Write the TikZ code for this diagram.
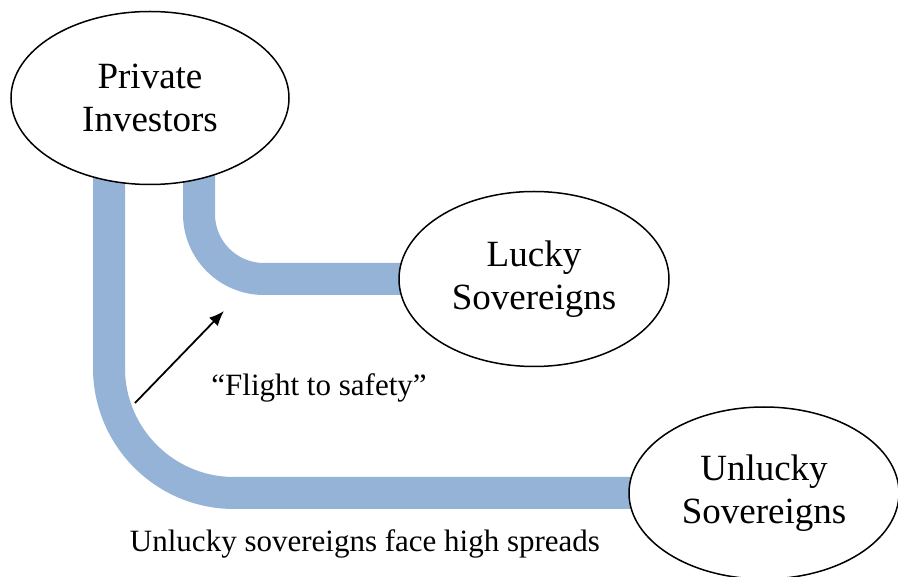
\documentclass[tikz,border=0pt]{standalone}
\usepackage{fontspec}
\setmainfont{Liberation Serif}
\usetikzlibrary{shapes.geometric,arrows.meta,backgrounds}

\definecolor{pipeblue}{RGB}{149,179,215}

\tikzstyle{party} = [ellipse, draw, line width=1.5pt, fill=white, align=center, inner sep=0pt, font=\fontsize{37}{43}\selectfont]
\tikzstyle{pipe} = [draw=pipeblue, line width=32pt]
\tikzstyle{line} = [draw, -{Latex[length=15pt,width=12pt]}, line width=1.8pt]
\tikzstyle{note} = [font=\fontsize{31}{37}\selectfont]

\begin{document}
\begin{tikzpicture}[x=1pt, y=-1pt]

  \useasboundingbox (0,0) rectangle (898,577);

  \node[party, minimum width=278pt, minimum height=173pt] (investors) at (150,98) {Private\\Investors};
  \node[party, minimum width=270pt, minimum height=175pt] (lucky) at (534,279) {Lucky\\Sovereigns};
  \node[party, minimum width=270pt, minimum height=172pt] (unlucky) at (764,493) {Unlucky\\Sovereigns};

  \begin{scope}[on background layer]
    \path [pipe, rounded corners=65pt] ([xshift=49pt]investors.center) |- (lucky.center);
    \path [pipe, rounded corners=125pt] ([xshift=-41pt]investors.center) |- (unlucky.center);
  \end{scope}

  \coordinate (flighttail) at (135,403);
  \coordinate (flighthead) at (224,311);
  \path [line] (flighttail) -- (flighthead);

  \node[note] (flight) at (319,388) {“Flight to safety”};
  \node[note] (spreads) at (365,544) {Unlucky sovereigns face high spreads};

\end{tikzpicture}
\end{document}
